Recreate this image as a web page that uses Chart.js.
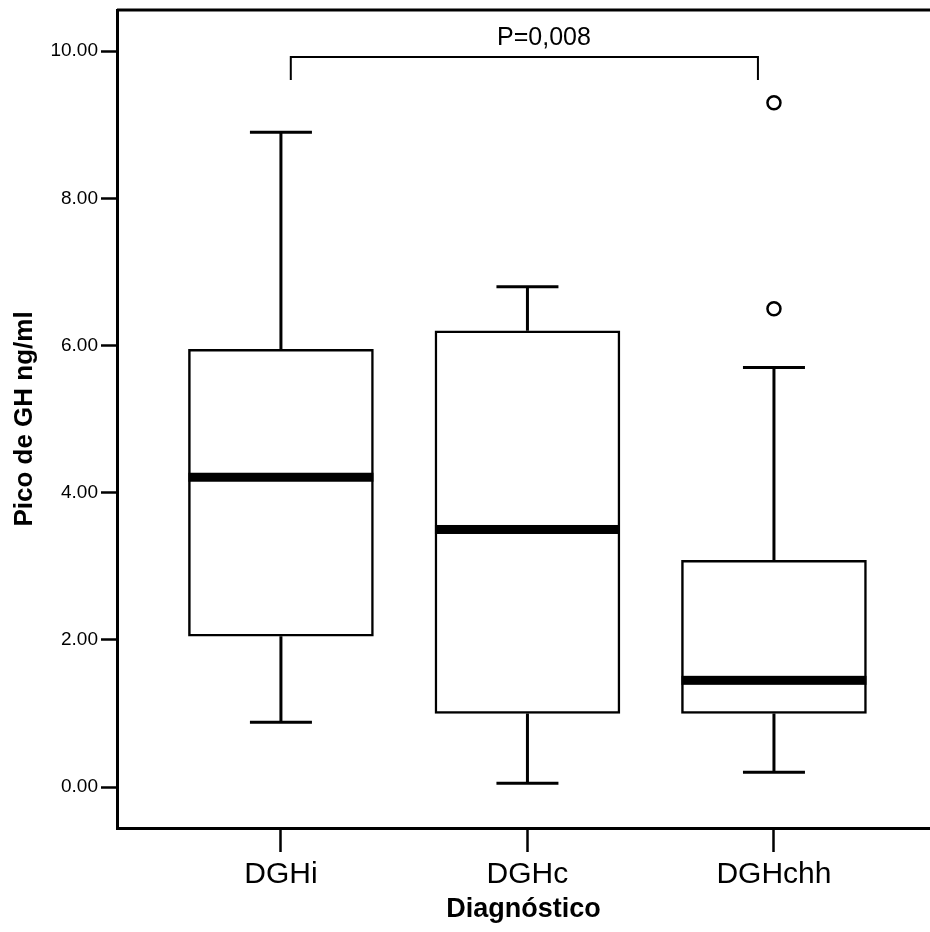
<!DOCTYPE html>
<html>
<head>
<meta charset="utf-8">
<script src="https://cdn.jsdelivr.net/npm/chart.js@4.4.1/dist/chart.umd.min.js"></script>
<style>
  html, body { margin: 0; padding: 0; background: #fff; overflow: hidden; }
  canvas { display: block; }
</style>
</head>
<body>
<canvas id="boxChart" width="930" height="932"></canvas>
<script>
// box plot values
const categories = ['DGHi', 'DGHc', 'DGHchh'];
const whiskerLow = [0.88, 0.05, 0.2];
const q1 = [2.05, 1.0, 1.0];
const median = [4.21, 3.5, 1.45];
const q3 = [5.95, 6.2, 3.08];
const whiskerHigh = [8.9, 6.8, 5.7];
const outlierCat = [2, 2];
const outlierVal = [9.3, 6.5];
const yTicks = [0, 2, 4, 6, 8, 10];
const pText = 'P=0,008';

const FONT = '"Liberation Sans", Arial, sans-serif';

// whiskers, medians, the significance bracket and the top frame line
const boxParts = {
    id: 'boxParts',
    beforeDatasetsDraw(chart) {
        const { ctx, scales: { x, y } } = chart;
        ctx.save();
        ctx.strokeStyle = '#000';
        ctx.lineWidth = 3;
        categories.forEach((c, i) => {
            const cx = x.getPixelForValue(i);
            ctx.beginPath();
            ctx.moveTo(cx, y.getPixelForValue(q3[i]));
            ctx.lineTo(cx, y.getPixelForValue(whiskerHigh[i]));
            ctx.moveTo(cx, y.getPixelForValue(q1[i]));
            ctx.lineTo(cx, y.getPixelForValue(whiskerLow[i]));
            ctx.moveTo(cx - 31, y.getPixelForValue(whiskerHigh[i]));
            ctx.lineTo(cx + 31, y.getPixelForValue(whiskerHigh[i]));
            ctx.moveTo(cx - 31, y.getPixelForValue(whiskerLow[i]));
            ctx.lineTo(cx + 31, y.getPixelForValue(whiskerLow[i]));
            ctx.stroke();
        });
        ctx.restore();
    },
    afterDatasetsDraw(chart) {
        const { ctx, chartArea, scales: { x, y } } = chart;
        const bars = chart.getDatasetMeta(0).data;
        ctx.save();
        ctx.fillStyle = '#000';
        categories.forEach((c, i) => {
            const w = bars[i].width;
            const cx = x.getPixelForValue(i);
            const my = y.getPixelForValue(median[i]);
            ctx.fillRect(cx - w / 2, my - 4.5, w, 9);
        });

        // bracket between DGHi and DGHchh
        const bx1 = x.getPixelForValue(0.04);
        const bx2 = x.getPixelForValue(1.935);
        const by = y.getPixelForValue(9.92);
        const bd = y.getPixelForValue(9.61);
        ctx.strokeStyle = '#000';
        ctx.lineWidth = 2;
        ctx.beginPath();
        ctx.moveTo(bx1, bd);
        ctx.lineTo(bx1, by);
        ctx.lineTo(bx2, by);
        ctx.lineTo(bx2, bd);
        ctx.stroke();

        ctx.font = '25px ' + FONT;
        ctx.textAlign = 'center';
        ctx.textBaseline = 'alphabetic';
        ctx.fillText(pText, x.getPixelForValue(1.067), y.getPixelForValue(10.09));

        // top frame line
        ctx.lineWidth = 3;
        ctx.beginPath();
        ctx.moveTo(chartArea.left, chartArea.top);
        ctx.lineTo(chartArea.right, chartArea.top);
        ctx.stroke();
        ctx.restore();
    }
};

const ctx = document.getElementById('boxChart');
new Chart(ctx, {
    type: 'bar',
    data: {
        datasets: [{
            label: 'box',
            data: categories.map((c, i) => ({ x: i, y: [q1[i], q3[i]] })),
            backgroundColor: '#fff',
            borderColor: '#000',
            borderWidth: 2.5,
            borderSkipped: false,
            barThickness: 185,
            grouped: false
        }, {
            type: 'scatter',
            label: 'outliers',
            data: outlierCat.map((c, i) => ({ x: c, y: outlierVal[i] })),
            pointStyle: 'circle',
            pointRadius: 6.5,
            pointBorderWidth: 2.5,
            backgroundColor: '#fff',
            borderColor: '#000'
        }]
    },
    options: {
        responsive: false,
        animation: false,
        layout: { autoPadding: false, padding: { top: 10, right: 0, left: 0, bottom: 0 } },
        plugins: {
            legend: { display: false },
            tooltip: { enabled: false }
        },
        scales: {
            x: {
                type: 'linear',
                offset: false,
                min: -0.665,
                max: 2.633,
                afterBuildTicks: scale => {
                    scale.ticks = categories.map((c, i) => ({ value: i }));
                },
                afterFit: scale => {
                    scale.height = 104;
                    scale.paddingLeft = 0;
                    scale.paddingRight = 0;
                },
                ticks: {
                    callback: v => categories[v],
                    color: '#000',
                    font: { family: FONT, size: 30 },
                    padding: 5,
                    maxRotation: 0,
                    autoSkip: false
                },
                grid: {
                    offset: false,
                    drawOnChartArea: false,
                    drawTicks: true,
                    tickLength: 24,
                    tickWidth: 2.5,
                    tickColor: '#000'
                },
                border: { display: true, color: '#000', width: 3 },
                title: {
                    display: true,
                    text: 'Diagnóstico',
                    color: '#000',
                    font: { family: FONT, size: 27, weight: 'bold' },
                    padding: { top: 0, bottom: 6 }
                }
            },
            y: {
                min: -0.557,
                max: 10.56,
                afterBuildTicks: scale => {
                    scale.ticks = yTicks.map(v => ({ value: v }));
                },
                afterFit: scale => {
                    scale.width = 117;
                    scale.paddingTop = 0;
                    scale.paddingBottom = 0;
                },
                ticks: {
                    callback: v => Number(v).toFixed(2),
                    color: '#000',
                    font: { family: FONT, size: 19 },
                    padding: 3
                },
                grid: {
                    drawOnChartArea: false,
                    drawTicks: true,
                    tickLength: 16,
                    tickWidth: 2.5,
                    tickColor: '#000'
                },
                border: { display: true, color: '#000', width: 3 },
                title: {
                    display: true,
                    text: 'Pico de GH ng/ml',
                    color: '#000',
                    font: { family: FONT, size: 26, weight: 'bold' },
                    padding: { top: 9, bottom: 0 }
                }
            }
        }
    },
    plugins: [boxParts]
});
</script>
</body>
</html>
